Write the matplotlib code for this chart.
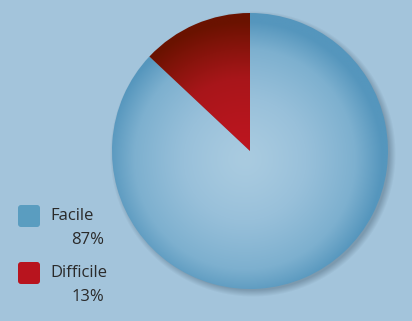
import numpy as np
import matplotlib
matplotlib.use("Agg")
import matplotlib.pyplot as plt
from matplotlib.patches import FancyBboxPatch
from matplotlib.colors import LinearSegmentedColormap

labels = ["Facile", "Difficile"]
values = [87, 13]
pct_labels = ["87%", "13%"]

W, H = 412, 321
BG = "#A3C4DB"
fig = plt.figure(figsize=(W / 100, H / 100), dpi=100, facecolor=BG)
ax = fig.add_axes([0, 0, 1, 1])
ax.set_xlim(0, W)
ax.set_ylim(H, 0)
ax.set_facecolor(BG)
ax.axis("off")

cx, cy, R = 250, 151, 138

# shadow
yy, xx = np.mgrid[0:H, 0:W] + 0.5
d = np.hypot(xx - (cx + 3), yy - (cy + 3))
sh = np.clip((R + 5 - d) / 7.0, 0, 1) * 0.45
shadow = np.zeros((H, W, 4))
shadow[..., 0] = 0.30
shadow[..., 1] = 0.40
shadow[..., 2] = 0.48
shadow[..., 3] = sh
ax.imshow(shadow, extent=(0, W, H, 0), zorder=1, interpolation="bilinear")

# y axis is inverted: startangle=-90 puts the first slice start at the visual top
wedges, _ = ax.pie(values, startangle=-90, counterclock=True, center=(cx, cy),
                   radius=R, colors=["none", "none"],
                   wedgeprops=dict(linewidth=0), frame=True)
ax.set_xlim(0, W)
ax.set_ylim(H, 0)
ax.set_aspect("equal")
ax.axis("off")

# radial gradients
gx = np.linspace(cx - R, cx + R, 400)
gy = np.linspace(cy - R, cy + R, 400)
GX, GY = np.meshgrid(gx, gy)
r = np.hypot(GX - (cx - 5), GY - (cy + 8)) / R
r = np.clip(r, 0, 1)

blue_cmap = LinearSegmentedColormap.from_list("b", [(0, "#A9CBE0"), (0.35, "#98C0DA"), (0.75, "#7DB0CF"), (1.0, "#5596BD")])
red_cmap = LinearSegmentedColormap.from_list("r", [(0, "#BE1520"), (0.5, "#A8161A"), (1.0, "#6A1200")])

for wedge, cmap in zip(wedges, [blue_cmap, red_cmap]):
    im = ax.imshow(r ** 1.3, cmap=cmap, vmin=0, vmax=1,
                   extent=(cx - R, cx + R, cy + R, cy - R), zorder=3,
                   interpolation="bilinear")
    im.set_clip_path(wedge)
ax.set_xlim(0, W)
ax.set_ylim(H, 0)

# legend
legend_colors = ["#5A9DC0", "#B8141E"]
box_y = [204, 261]
for lab, pct, col, y0 in zip(labels, pct_labels, legend_colors, box_y):
    box = FancyBboxPatch((18, y0 + 1), 22, 22, boxstyle="round,pad=0,rounding_size=3",
                         facecolor=col, edgecolor="none", zorder=5)
    ax.add_patch(box)
    ax.text(50, y0 + 12, lab, fontsize=12, family="Open Sans", color="#2A2A2A",
            va="center", ha="left", zorder=6)
    ax.text(104, y0 + 36, pct, fontsize=12, family="Open Sans", color="#2A2A2A",
            va="center", ha="right", zorder=6)

fig.savefig("out.png", dpi=100, facecolor=BG)
